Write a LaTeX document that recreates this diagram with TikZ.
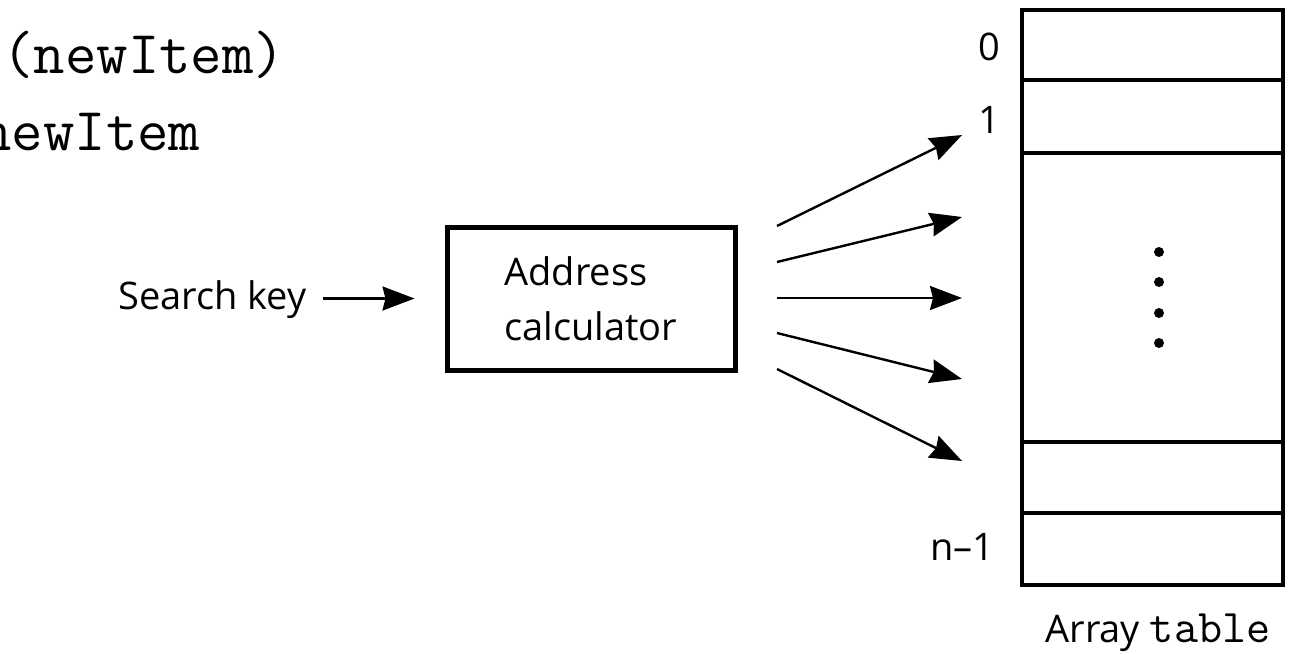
\documentclass[tikz,border=0pt]{standalone}
\usepackage{fontspec}
\setmainfont{Open Sans}
\setmonofont{Latin Modern Mono}
\usetikzlibrary{arrows.meta}
\begin{document}
\begin{tikzpicture}[x=0.5pt,y=-0.5pt,
  lbl/.style={font=\fontsize{19}{27.5}\selectfont, inner sep=0pt},
  arr/.style={line width=1.2pt, -{Stealth[length=16pt,width=12pt,inset=1.5pt]}},
  calcbox/.style={draw, line width=2.5pt, minimum width=144pt, minimum height=71.5pt, inner sep=0pt, align=left, font=\fontsize{19}{27.5}\selectfont},
  cell/.style={draw, line width=2pt, minimum width=130.5pt, inner sep=0pt, outer sep=0pt, anchor=north west},
  code/.style={font=\ttfamily\fontsize{30.5}{34}\selectfont, inner sep=0pt, anchor=base west},
  dot/.style={circle, fill, inner sep=0pt, minimum size=5pt}
]
\useasboundingbox (0,0) rectangle (1291,654);
\clip (0,0) rectangle (1291,654);

% top-left code text (cut off at the left edge, as in the reference)
\node[code] (c1) at (2,73) {(newItem)};
\node[code] (c2) at (-20,150) {newItem};

% search key and address calculator
\node[lbl, anchor=east] (sk) at (307,300) {Search key};
\node[calcbox] (box) at (591,298.5) {Address\\calculator};
\path ([xshift=8pt]sk.east) coordinate (skr);
\draw[arr] (skr |- box.west) -- ([xshift=-15pt]box.west);

% table cells
\node[cell, minimum height=35pt] (t0) at (1022,10) {};
\node[cell, minimum height=36.5pt] (t1) at (t0.south west) {};
\node[cell, minimum height=144.5pt] (tm) at (t1.south west) {};
\node[cell, minimum height=35.5pt] (t2) at (tm.south west) {};
\node[cell, minimum height=36pt] (t3) at (t2.south west) {};

% dots
\node[dot] (d1) at (1159,252) {};
\node[dot] (d2) at (1159,282) {};
\node[dot] (d3) at (1159,313) {};
\node[dot] (d4) at (1159,343) {};

% index labels
\node[lbl] (l0) at (989,47) {0};
\node[lbl] (l1) at (989,120) {1};
\node[lbl, anchor=east] (ln) at (995,547) {n–1};

% caption
\node[lbl] (cap) at (1158,633) {Array {\ttfamily\fontsize{23.4}{26}\selectfont table}};

% fan-out arrows
\coordinate (s1) at (777,226);
\coordinate (s2) at (777,262);
\coordinate (s3) at (777,298);
\coordinate (s4) at (777,333);
\coordinate (s5) at (777,369);
\coordinate (e1) at (962,135);
\coordinate (e2) at (962,217);
\coordinate (e3) at (962,298);
\coordinate (e4) at (962,379);
\coordinate (e5) at (962,461);
\foreach \i in {1,...,5} {\draw[arr] (s\i) -- (e\i);}
\end{tikzpicture}
\end{document}
